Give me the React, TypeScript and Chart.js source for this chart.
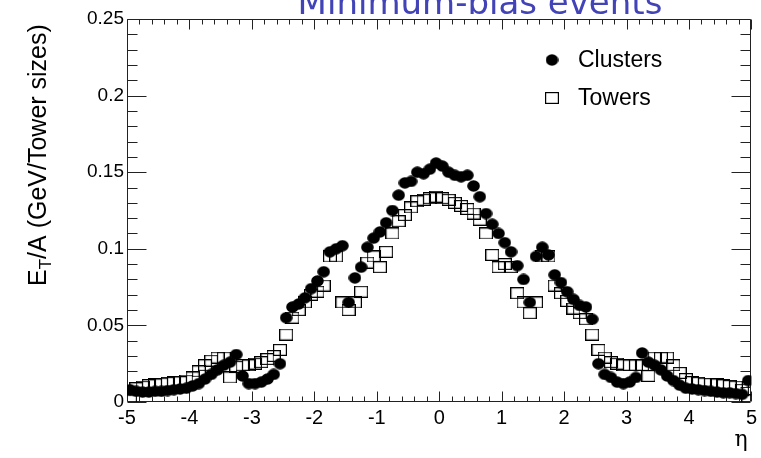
import React, { useEffect, useRef } from "react";
import { Chart, registerables } from "chart.js";

Chart.register(...registerables);

const etaBins = [
  -4.95, -4.85, -4.75, -4.65, -4.55, -4.45, -4.35, -4.25, -4.15, -4.05,
  -3.95, -3.85, -3.75, -3.65, -3.55, -3.45, -3.35, -3.25, -3.15, -3.05,
  -2.95, -2.85, -2.75, -2.65, -2.55, -2.45, -2.35, -2.25, -2.15, -2.05,
  -1.95, -1.85, -1.75, -1.65, -1.55, -1.45, -1.35, -1.25, -1.15, -1.05,
  -0.95, -0.85, -0.75, -0.65, -0.55, -0.45, -0.35, -0.25, -0.15, -0.05,
  0.05, 0.15, 0.25, 0.35, 0.45, 0.55, 0.65, 0.75, 0.85, 0.95,
  1.05, 1.15, 1.25, 1.35, 1.45, 1.55, 1.65, 1.75, 1.85, 1.95,
  2.05, 2.15, 2.25, 2.35, 2.45, 2.55, 2.65, 2.75, 2.85, 2.95,
  3.05, 3.15, 3.25, 3.35, 3.45, 3.55, 3.65, 3.75, 3.85, 3.95,
  4.05, 4.15, 4.25, 4.35, 4.45, 4.55, 4.65, 4.75, 4.85, 4.95,
];

const clusters = [
  0.008, 0.007, 0.0065, 0.0065, 0.007, 0.007, 0.0075, 0.008, 0.0085, 0.009,
  0.0105, 0.012, 0.015, 0.018, 0.021, 0.024, 0.026, 0.031, 0.017, 0.012,
  0.012, 0.013, 0.015, 0.018, 0.025, 0.055, 0.062, 0.064, 0.068, 0.074,
  0.079, 0.085, 0.098, 0.1, 0.102, 0.065, 0.081, 0.088, 0.101, 0.107,
  0.111, 0.117, 0.125, 0.135, 0.143, 0.144, 0.15, 0.149, 0.152, 0.156,
  0.154, 0.15, 0.148, 0.147, 0.148, 0.141, 0.134, 0.123, 0.116, 0.11,
  0.104, 0.098, 0.089, 0.08, 0.065, 0.095, 0.101, 0.096, 0.083, 0.078,
  0.072, 0.067, 0.063, 0.062, 0.054, 0.025, 0.018, 0.016, 0.013, 0.012,
  0.013, 0.016, 0.032, 0.026, 0.024, 0.021, 0.017, 0.014, 0.011, 0.009,
  0.0085, 0.008, 0.0075, 0.007, 0.0065, 0.006, 0.006, 0.0055, 0.005, 0.014,
];

const towers = [
  0.001, 0.009, 0.01, 0.011, 0.0115, 0.012, 0.0125, 0.013, 0.013, 0.014,
  0.016, 0.02, 0.024, 0.027, 0.029, 0.029, 0.016, 0.023, 0.024, 0.024,
  0.025, 0.026, 0.028, 0.03, 0.034, 0.044, 0.055, 0.06, 0.065, 0.07,
  0.072, 0.076, 0.095, 0.095, 0.065, 0.06, 0.065, 0.072, 0.091, 0.095,
  0.088, 0.098, 0.11, 0.118, 0.122, 0.127, 0.131, 0.132, 0.133, 0.134,
  0.133, 0.132, 0.13, 0.128, 0.126, 0.123, 0.119, 0.11, 0.096, 0.088,
  0.09, 0.088, 0.071, 0.065, 0.058, 0.065, 0.095, 0.095, 0.076, 0.071,
  0.066, 0.061, 0.058, 0.054, 0.044, 0.034, 0.029, 0.026, 0.025, 0.024,
  0.024, 0.024, 0.024, 0.017, 0.029, 0.029, 0.029, 0.024, 0.019, 0.015,
  0.013, 0.0125, 0.012, 0.012, 0.0115, 0.011, 0.0105, 0.01, 0.008, 0.001,
];

const seriesNames = ["Clusters", "Towers"];
const xTickLabels = ["-5", "-4", "-3", "-2", "-1", "0", "1", "2", "3", "4", "5"];
const yTickLabels = ["0", "0.05", "0.1", "0.15", "0.2", "0.25"];
const titleText = "Minimum-bias events";
const yTitleMain = "E";
const yTitleSub = "T";
const yTitleRest = "/A (GeV/Tower sizes)";
const xTitle = "η";

const SANS = "'Liberation Sans', Arial, sans-serif";

function makeCircle(w: number, h: number) {
  const c = document.createElement("canvas");
  c.width = w;
  c.height = h;
  const g = c.getContext("2d")!;
  g.fillStyle = "#000";
  g.beginPath();
  g.ellipse(w / 2, h / 2, w / 2 - 0.2, h / 2 - 0.2, 0, 0, Math.PI * 2);
  g.fill();
  return c;
}

function makeSquare(w: number, h: number) {
  const c = document.createElement("canvas");
  c.width = w;
  c.height = h;
  const g = c.getContext("2d")!;
  g.strokeStyle = "#000";
  g.lineWidth = 1.2;
  g.strokeRect(0.6, 0.6, w - 1.2, h - 1.2);
  return c;
}

export default function App() {
  const ref = useRef<HTMLCanvasElement | null>(null);

  useEffect(() => {
    if (!ref.current) return;
    const circle = makeCircle(13, 12);
    const square = makeSquare(14, 12);

    const framePlugin = {
      id: "rootFrame",
      beforeDatasetsDraw(chart: any) {
        const { ctx, chartArea: a, scales } = chart;
        const xs = scales.x;
        const ys = scales.y;
        ctx.save();
        ctx.strokeStyle = "#222";
        ctx.lineWidth = 1;
        const L = Math.round(a.left) + 0.5;
        const R = Math.round(a.right) - 0.5;
        const T = Math.round(a.top) + 0.5;
        const B = Math.round(a.bottom) - 0.5;
        ctx.beginPath();
        ctx.rect(L, T, R - L, B - T);
        ctx.stroke();
        ctx.beginPath();
        const xt = xs.ticks.map((t: any) => t.value);
        for (let i = 0; i < xt.length; i++) {
          const px = Math.round(xs.getPixelForValue(xt[i])) + 0.5;
          ctx.moveTo(px, B);
          ctx.lineTo(px, B - 10);
          ctx.moveTo(px, T);
          ctx.lineTo(px, T + 10);
          if (i < xt.length - 1) {
            for (let k = 1; k < 5; k++) {
              const v = xt[i] + ((xt[i + 1] - xt[i]) * k) / 5;
              const p = Math.round(xs.getPixelForValue(v)) + 0.5;
              ctx.moveTo(p, B);
              ctx.lineTo(p, B - 5);
              ctx.moveTo(p, T);
              ctx.lineTo(p, T + 5);
            }
          }
        }
        const yt = ys.ticks.map((t: any) => t.value);
        for (let i = 0; i < yt.length; i++) {
          const py = Math.round(ys.getPixelForValue(yt[i])) + 0.5;
          ctx.moveTo(L, py);
          ctx.lineTo(L + 19, py);
          ctx.moveTo(R, py);
          ctx.lineTo(R - 19, py);
          if (i < yt.length - 1) {
            for (let k = 1; k < 5; k++) {
              const v = yt[i] + ((yt[i + 1] - yt[i]) * k) / 5;
              const p = Math.round(ys.getPixelForValue(v)) + 0.5;
              ctx.moveTo(L, p);
              ctx.lineTo(L + 10, p);
              ctx.moveTo(R, p);
              ctx.lineTo(R - 10, p);
            }
          }
        }
        ctx.stroke();
        ctx.restore();
      },
      afterDraw(chart: any) {
        const { ctx } = chart;
        ctx.save();
        // Title (cut at top)
        ctx.fillStyle = "#4343b8";
        ctx.font = "34px 'DejaVu Sans', Verdana, sans-serif";
        ctx.textAlign = "center";
        ctx.textBaseline = "alphabetic";
        ctx.fillText(titleText, 480, 14);

        // Y axis title, rotated
        ctx.fillStyle = "#000";
        ctx.save();
        ctx.translate(46, 286);
        ctx.rotate(-Math.PI / 2);
        ctx.textAlign = "left";
        ctx.textBaseline = "alphabetic";
        ctx.font = `25px ${SANS}`;
        ctx.fillText(yTitleMain, 0, 0);
        let w = ctx.measureText(yTitleMain).width;
        ctx.font = `17px ${SANS}`;
        ctx.fillText(yTitleSub, w, 5);
        w += ctx.measureText(yTitleSub).width;
        ctx.font = `25px ${SANS}`;
        ctx.fillText(yTitleRest, w, 0);
        ctx.restore();

        // X axis title
        ctx.font = "22px 'DejaVu Serif', 'Liberation Serif', serif";
        ctx.textAlign = "center";
        ctx.textBaseline = "alphabetic";
        ctx.fillText(xTitle, 741, 446);

        // Legend
        ctx.drawImage(circle, 552 - 6.5, 60 - 6);
        ctx.drawImage(square, 552 - 7, 98 - 6);
        ctx.font = `23px ${SANS}`;
        ctx.textAlign = "left";
        ctx.textBaseline = "middle";
        ctx.fillText(seriesNames[0], 578, 61);
        ctx.fillText(seriesNames[1], 578, 99);
        ctx.restore();
      },
    };

    const chart = new Chart(ref.current, {
      type: "scatter",
      data: {
        datasets: [
          {
            label: seriesNames[1],
            data: etaBins.map((x, i) => ({ x, y: towers[i] })),
            pointStyle: square as any,
            pointRadius: 6,
            borderColor: "#000",
            backgroundColor: "rgba(0,0,0,0)",
            order: 0,
          },
          {
            label: seriesNames[0],
            data: etaBins.map((x, i) => ({ x, y: clusters[i] })),
            pointStyle: circle as any,
            pointRadius: 6,
            borderColor: "#000",
            backgroundColor: "#000",
            order: 1,
          },
        ],
      },
      options: {
        animation: false,
        responsive: false,
        events: [],
        layout: { padding: { top: 19, right: 9, left: 0, bottom: 0 } },
        plugins: {
          legend: { display: false },
          title: { display: false },
          tooltip: { enabled: false },
        },
        scales: {
          x: {
            type: "linear",
            min: -5,
            max: 5,
            grid: { display: false, drawTicks: false },
            border: { display: false },
            ticks: {
              stepSize: 1,
              autoSkip: false,
              maxRotation: 0,
              padding: 4,
              color: "#000",
              font: { family: SANS, size: 20 },
              callback: (_v: any, i: number) => xTickLabels[i],
            },
            afterFit: (s: any) => {
              s.height = 56;
            },
          },
          y: {
            type: "linear",
            min: 0,
            max: 0.25,
            grid: { display: false, drawTicks: false },
            border: { display: false },
            ticks: {
              stepSize: 0.05,
              autoSkip: false,
              padding: 3,
              color: "#000",
              font: { family: SANS, size: 19 },
              callback: (_v: any, i: number) => yTickLabels[i],
            },
            afterFit: (s: any) => {
              s.width = 127;
            },
          },
        },
      },
      plugins: [framePlugin],
    });
    return () => chart.destroy();
  }, []);

  return (
    <div style={{ position: "fixed", left: 0, top: 0, width: 761, height: 458, background: "#fff" }}>
      <canvas ref={ref} width={761} height={458} style={{ width: 761, height: 458 }} />
    </div>
  );
}
